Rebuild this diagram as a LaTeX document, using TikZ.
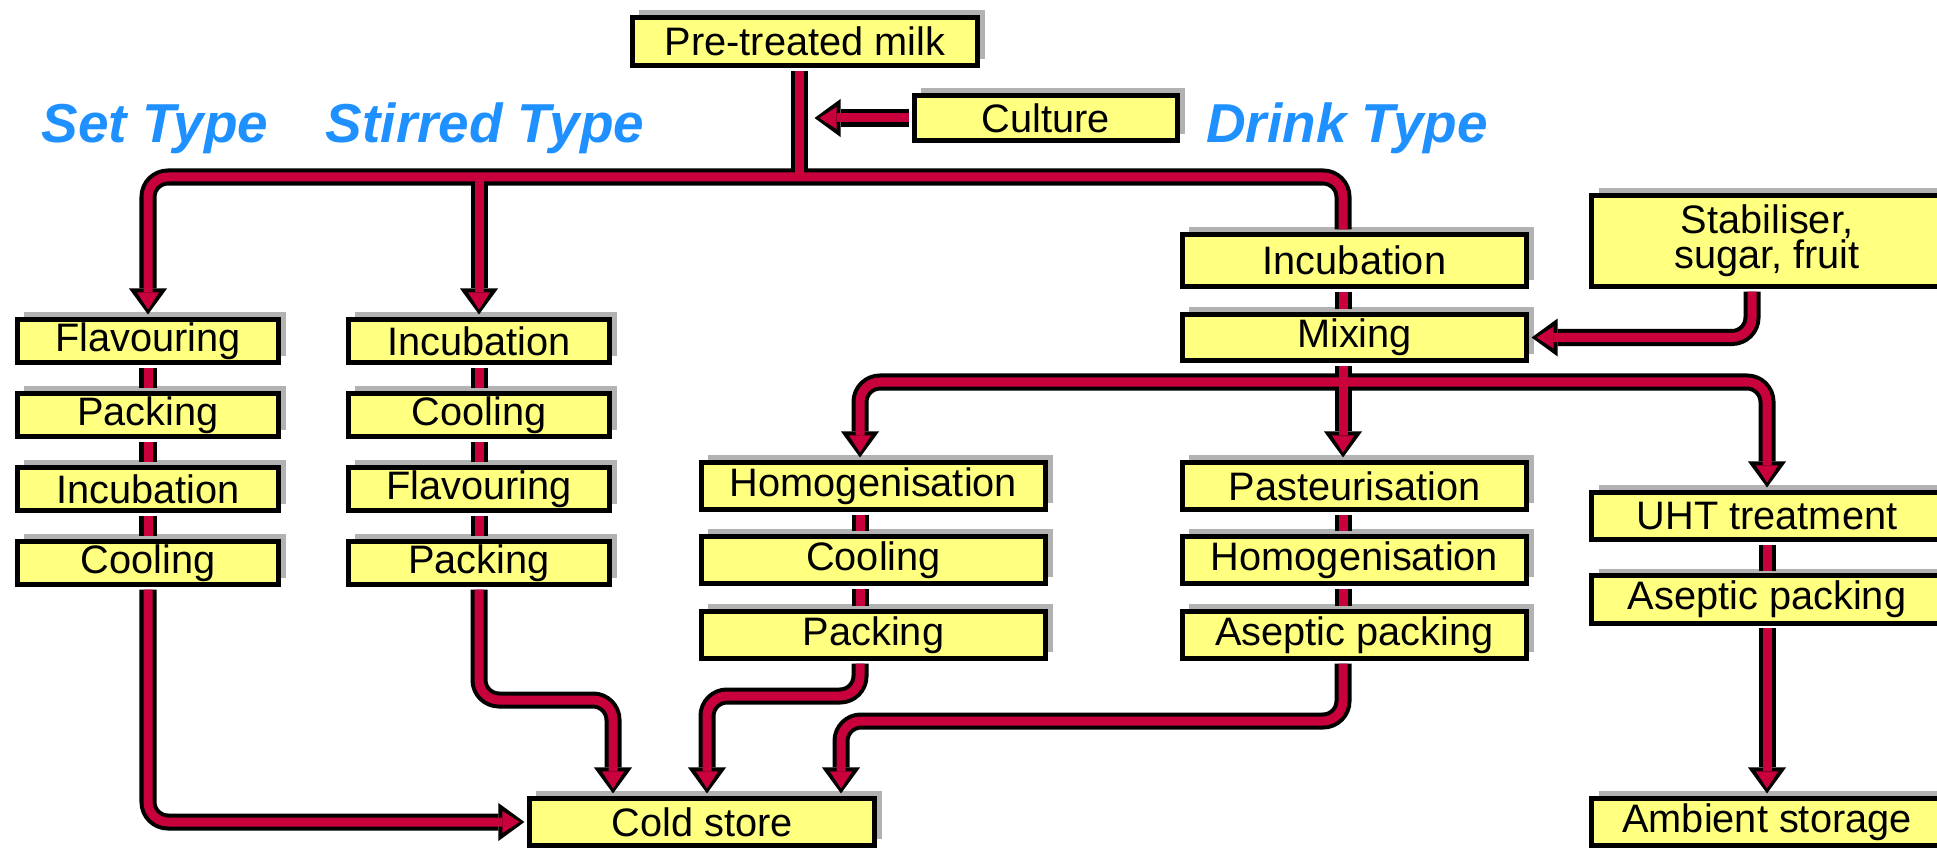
\documentclass[tikz,border=0pt]{standalone}
\usepackage{fontspec}
\setmainfont{Liberation Sans}
\usepackage{xcolor}
\usetikzlibrary{arrows.meta}
\usetikzlibrary{shadows}
\usetikzlibrary{positioning}
\definecolor{boxyellow}{RGB}{255,255,128}
\definecolor{pipered}{RGB}{200,0,60}
\definecolor{typeblue}{RGB}{30,144,255}
\definecolor{shadowgrey}{RGB}{178,178,178}

\tikzset{
  stage/.style={draw=black, line width=0.05cm, fill=boxyellow, inner sep=0pt,
    minimum width=3.44cm, minimum height=0.47cm,
    font=\fontsize{11.3}{13.5}\selectfont,
    drop shadow={shadow xshift=0.07cm, shadow yshift=0.07cm, fill=shadowgrey, opacity=1}},
  narrow/.style={minimum width=2.61cm, minimum height=0.43cm},
  wide/.style={minimum width=3.5cm},
  typelabel/.style={text=typeblue, font=\fontsize{15.6}{18}\selectfont\bfseries\itshape,
    inner sep=0pt, anchor=base},
  outertip/.tip={Triangle[length=0.26cm, width=0.38cm, line width=0pt]},
  innertip/.tip={Triangle[length=0.17cm, width=0.22cm, line width=0pt]},
  pipeouter/.style={color=black, line width=0.17cm, rounded corners=0.2cm,
    shorten <=0.025cm, shorten >=0.025cm,
    arr/.style={-outertip}, arrb/.style={outertip-outertip}, arrs/.style={outertip-}},
  pipeinner/.style={color=pipered, line width=0.09cm, rounded corners=0.2cm,
    shorten <=0.025cm, shorten >=0.025cm,
    arr/.style={-innertip, shorten >=0.075cm},
    arrb/.style={innertip-innertip, shorten <=0.075cm, shorten >=0.075cm},
    arrs/.style={innertip-, shorten <=0.075cm}},
}

% all connectors, drawn once black and once red
\newcommand{\flowlines}{%
  \draw (milk.south -| split) -- (split);
  \draw[arr] (culture.west) -- (cjoin);
  \draw[arrs] (setflav.north) |- (split) -| (drinc.north -| msplit);
  \draw[arr] (split -| stiinc.north) -- (stiinc.north);
  % set type
  \draw (setflav) -- (setpack);
  \draw (setpack) -- (setinc);
  \draw (setinc) -- (setcool);
  \draw[arr] (setcool.south) |- (cold.west);
  % stirred type
  \draw (stiinc) -- (sticool);
  \draw (sticool) -- (stiflav);
  \draw (stiflav) -- (stipack);
  \draw[arr] (stipack.south) |- (stibend) -- (stibend |- cold.north);
  % drink type
  \draw (drinc.south -| msplit) -- (drmix.north -| msplit);
  \draw[arr] ([xshift=-0.15cm]stab.south) |- (drmix.east);
  \draw[arr] (drmix.south -| msplit) -- (paspas.north -| msplit);
  \draw[arrb] (homhom.north -| midline) |- (msplit) -| (uht.north);
  \draw (homhom.south -| midline) -- (homcool.north -| midline);
  \draw (homcool.south -| midline) -- (hompack.north -| midline);
  \draw[arr] (hompack.south -| midline) |- (midbend) -- (midbend |- cold.north);
  \draw (paspas.south -| msplit) -- (pashom.north -| msplit);
  \draw (pashom.south -| msplit) -- (pasasep.north -| msplit);
  \draw[arr] (pasasep.south -| msplit) |- (drbend) -- (drbend |- cold.north);
  \draw (uht) -- (uhtasep);
  \draw[arr] (uhtasep) -- (ambient);
}

\begin{document}
\begin{tikzpicture}[x=0.01cm, y=-0.01cm]
  \clip (0,0) rectangle (1937,849);

  % type headings
  \node[typelabel] (settype) at (155,143) {Set Type};
  \node[typelabel] (stirtype) at (485,143) {Stirred Type};
  \node[typelabel] (drinktype) at (1347,143) {Drink Type};

  % milk and culture
  \node[stage, minimum width=3.45cm, minimum height=0.48cm] (milk) at (805,41.5) {Pre-treated milk};
  \node[stage, minimum width=2.63cm, minimum height=0.45cm] (culture) at (1046,118) {Culture};

  % set type
  \node[stage, narrow] (setflav) at (148,341) {Flavouring};
  \node[stage, narrow] (setpack) at (148,415) {Packing};
  \node[stage, narrow] (setinc) at (148,489) {Incubation};
  \node[stage, narrow] (setcool) at (148,563) {Cooling};

  % stirred type
  \node[stage, narrow] (stiinc) at (479,341) {Incubation};
  \node[stage, narrow] (sticool) at (479,415) {Cooling};
  \node[stage, narrow] (stiflav) at (479,489) {Flavouring};
  \node[stage, narrow] (stipack) at (479,563) {Packing};

  % drink type
  \node[stage, minimum height=0.52cm] (drinc) at (1354.5,260.5) {Incubation};
  \node[stage, minimum height=0.46cm] (drmix) at (1354.5,337.5) {Mixing};
  \node[stage, wide, minimum height=0.91cm, align=center, font=\fontsize{11.3}{10}\selectfont]
    (stab) at (1767,241) {Stabiliser,\\sugar, fruit};

  \node[stage] (homhom) at (873.5,486) {Homogenisation};
  \node[stage] (homcool) at (873.5,560) {Cooling};
  \node[stage] (hompack) at (873.5,635) {Packing};

  \node[stage] (paspas) at (1354.5,486) {Pasteurisation};
  \node[stage] (pashom) at (1354.5,560) {Homogenisation};
  \node[stage] (pasasep) at (1354.5,635) {Aseptic packing};

  \node[stage, wide] (uht) at (1767,516) {UHT treatment};
  \node[stage, wide] (uhtasep) at (1767,599.5) {Aseptic packing};
  \node[stage, wide] (ambient) at (1767,822) {Ambient storage};

  \node[stage, minimum width=3.45cm] (cold) at (702,822) {Cold store};

  % junctions and bends
  \coordinate (split) at (799,177);
  \coordinate (cjoin) at (812,118);
  \coordinate (msplit) at (1343,382);
  \coordinate (midline) at (860,382);
  \coordinate (stibend) at (613,700);
  \coordinate (midbend) at (707,696);
  \coordinate (drbend) at (841,721);

  \begin{scope}[pipeouter]
    \flowlines
  \end{scope}
  \begin{scope}[pipeinner]
    \flowlines
  \end{scope}
\end{tikzpicture}
\end{document}
